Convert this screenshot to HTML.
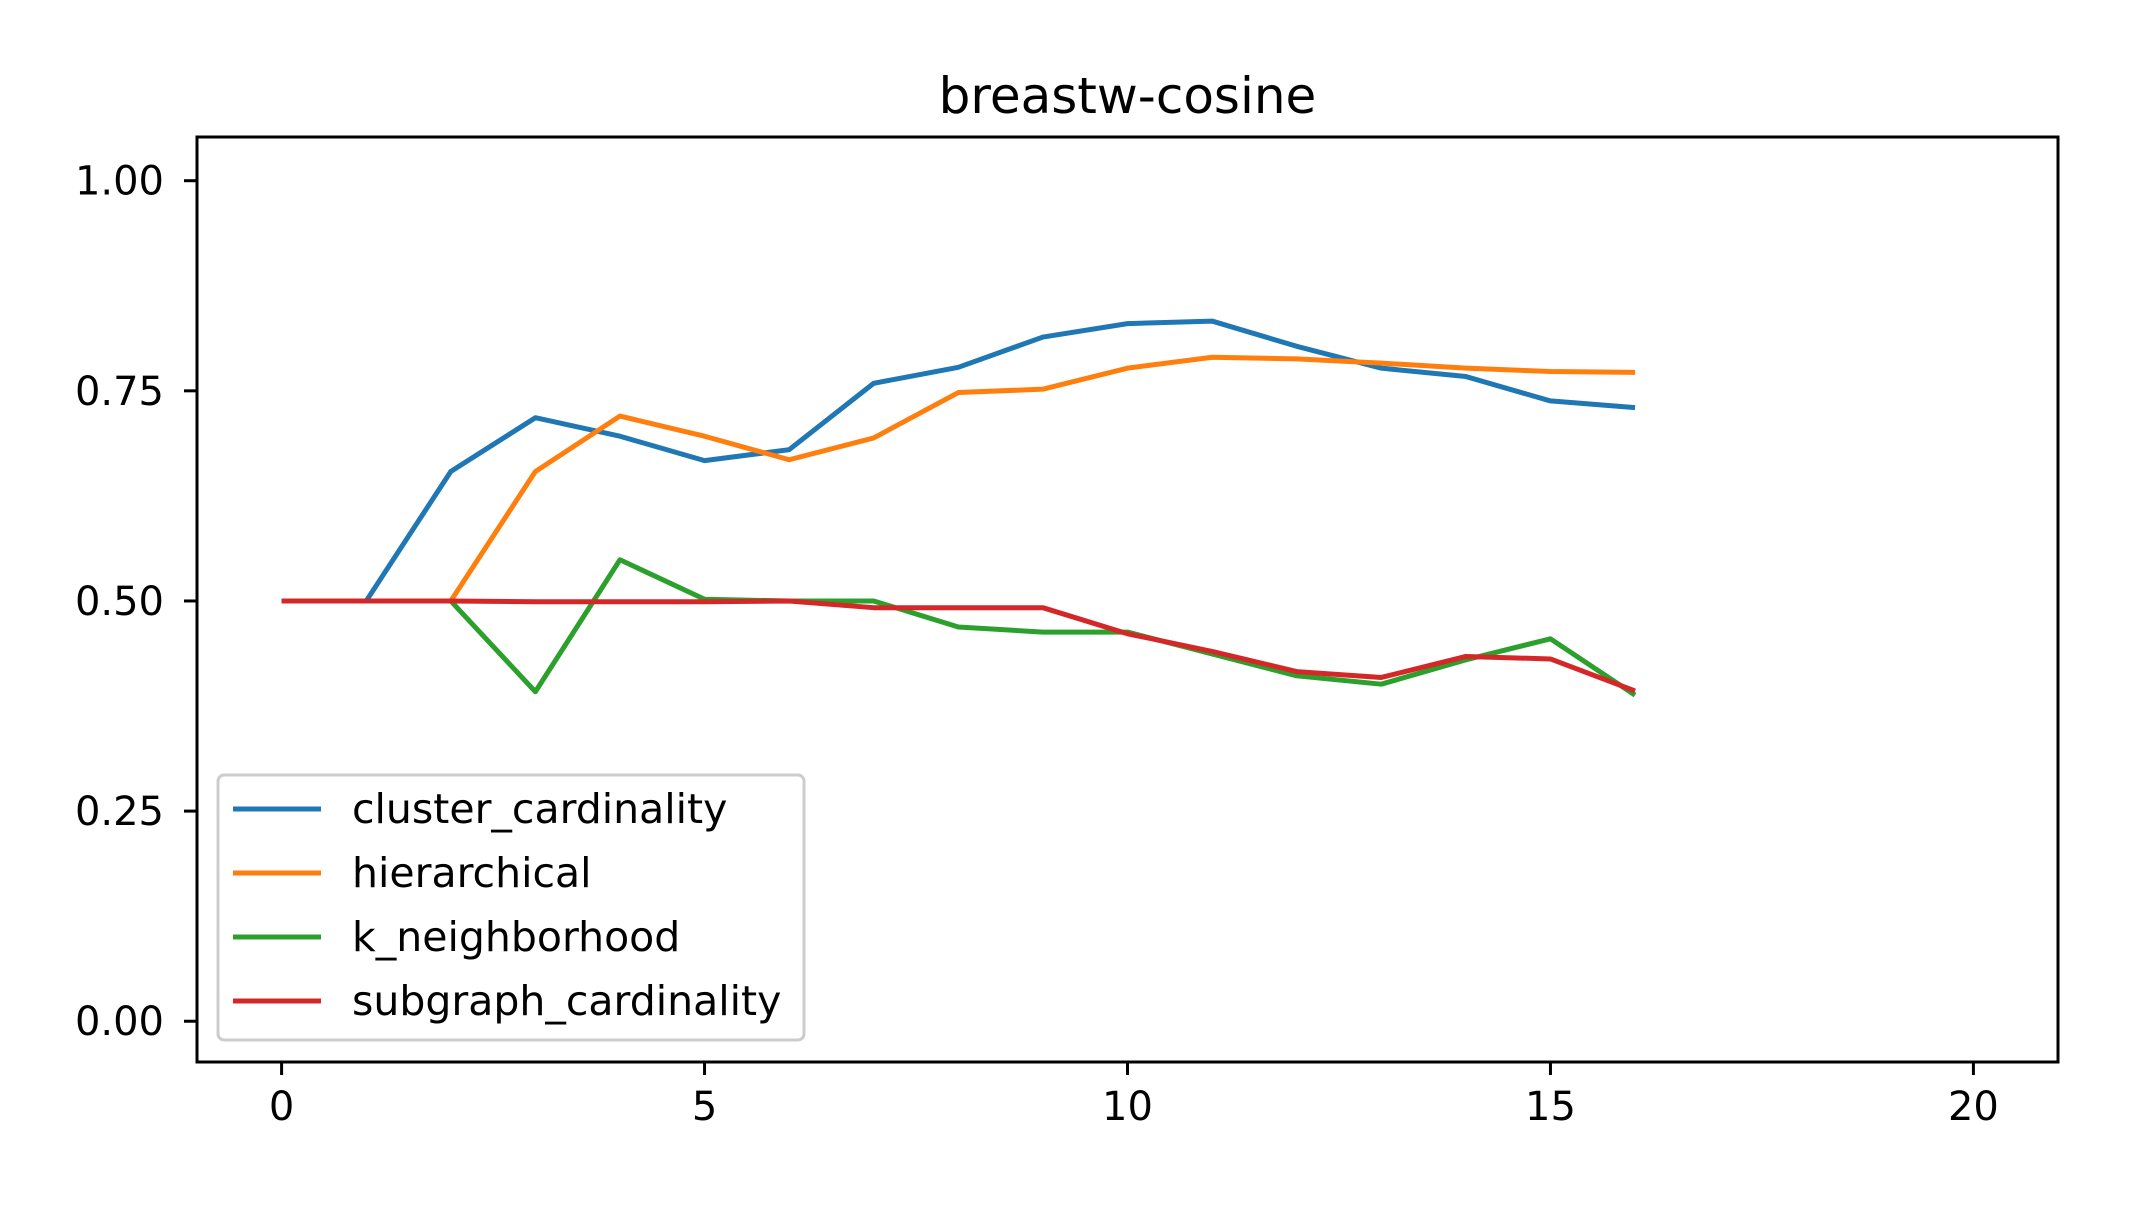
<!DOCTYPE html>
<html><head><meta charset="utf-8"><style>
body{margin:0;background:#fff}
svg text{font-family:"DejaVu Sans","Liberation Sans",sans-serif;fill:#000}
</style></head><body>
<svg width="2131" height="1208" id="c">
</svg>
<script>
const xTicks=[0,5,10,15,20];
const yTicks=[0.00,0.25,0.50,0.75,1.00];
const yTickLabels=["0.00","0.25","0.50","0.75","1.00"];
const seriesNames=["cluster_cardinality","hierarchical","k_neighborhood","subgraph_cardinality"];
const clusterCardinality=[0.5,0.5,0.654,0.718,0.696,0.667,0.680,0.759,0.778,0.814,0.830,0.833,0.803,0.777,0.767,0.738,0.730];
const hierarchical=[0.5,0.5,0.5,0.654,0.720,0.696,0.668,0.694,0.748,0.752,0.777,0.790,0.788,0.783,0.777,0.773,0.772];
const kNeighborhood=[0.5,0.5,0.5,0.392,0.549,0.502,0.5,0.5,0.469,0.463,0.463,0.437,0.411,0.401,0.430,0.455,0.388];
const subgraphCardinality=[0.5,0.5,0.5,0.499,0.499,0.499,0.5,0.492,0.492,0.492,0.461,0.440,0.416,0.409,0.434,0.431,0.393];
const colors=["#1f77b4","#ff7f0e","#2ca02c","#d62728"];
const L=197,R=2058,T=137,B=1062,x0=-1,x1=21,y0=-0.0485,y1=1.052;
const sx=v=>L+(v-x0)/(x1-x0)*(R-L);
const sy=v=>B-(v-y0)/(y1-y0)*(B-T);
const svg=document.getElementById('c');
const NS='http://www.w3.org/2000/svg';
function mk(t,a){const e=document.createElementNS(NS,t);for(const k in a)e.setAttribute(k,a[k]);svg.appendChild(e);return e;}
const title=mk('text',{x:(L+R)/2,y:113,'text-anchor':'middle','font-size':50});
title.textContent='breastw-cosine';


xTicks.forEach(v=>{
 const t=mk('line',{x1:sx(v),x2:sx(v),y1:B,y2:B+13,stroke:'#000','stroke-width':3});
 
 
 const l=mk('text',{x:sx(v),y:B+58,'text-anchor':'middle','font-size':40});
 l.textContent=v;
 
 
});
yTicks.forEach((v,i)=>{
 const t=mk('line',{x1:L-13,x2:L,y1:sy(v),y2:sy(v),stroke:'#000','stroke-width':3});
 
 
 const l=mk('text',{x:L-33,y:sy(v)+14,'text-anchor':'end','font-size':40});
 l.textContent=yTickLabels[i];
 
 
});
[clusterCardinality,hierarchical,kNeighborhood,subgraphCardinality].forEach((s,i)=>{
 const p=mk('polyline',{points:s.map((v,j)=>sx(j)+','+sy(v)).join(' '),fill:'none',stroke:colors[i],'stroke-width':5,'stroke-linejoin':'round'});
 
 
});
const frame=mk('rect',{x:L,y:T,width:R-L,height:B-T,fill:'none',stroke:'#000','stroke-width':3});


const lg=mk('rect',{x:218,y:775,width:586,height:265,rx:6,fill:'#fff','fill-opacity':0.8,stroke:'#ccc','stroke-width':3});


seriesNames.forEach((n,i)=>{
 const y=809+i*64;
 const ln=mk('line',{x1:233,x2:321,y1:y,y2:y,stroke:colors[i],'stroke-width':5});
 
 
 const t=mk('text',{x:352,y:y+14,'font-size':41});
 t.textContent=n;
 
 
});
</script>
</body></html>
